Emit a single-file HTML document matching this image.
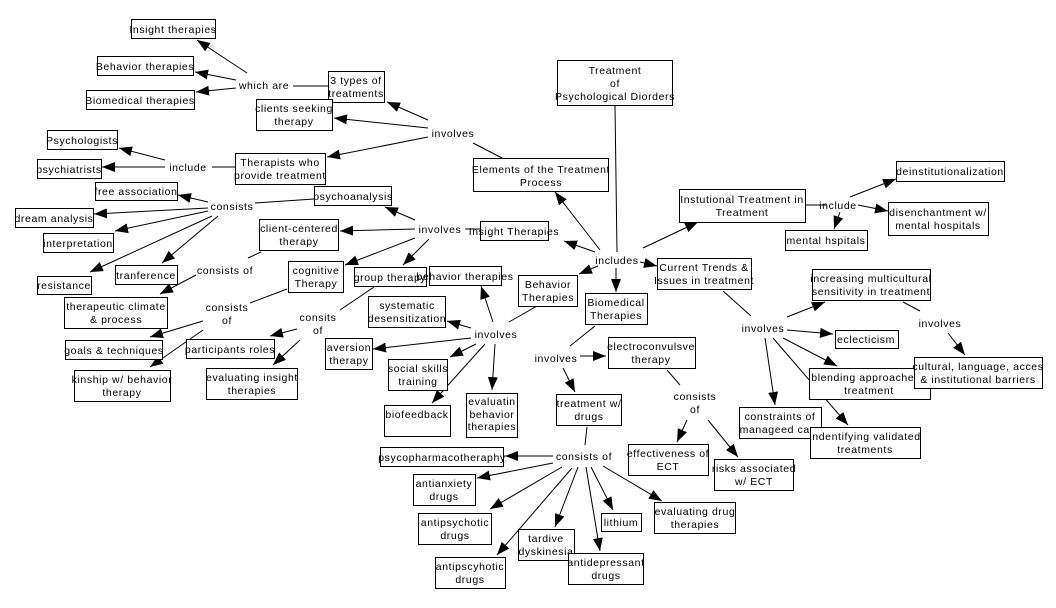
<!DOCTYPE html>
<html><head><meta charset="utf-8"><style>
html,body{margin:0;padding:0;background:#fff;}
svg{display:block;}
text{font-family:"Liberation Sans",sans-serif;font-size:10.5px;letter-spacing:0.6px;fill:#000;}
rect{fill:#fff;stroke:#000;stroke-width:1;}
line{stroke:#000;stroke-width:1;}
</style></head><body>
<svg width="1056" height="608" viewBox="0 0 1056 608" xmlns="http://www.w3.org/2000/svg">
<defs><marker id="a" markerWidth="13" markerHeight="10" refX="13" refY="5" orient="auto" markerUnits="userSpaceOnUse"><path d="M0,0L13,5L0,10z" fill="#000"/></marker></defs>
<g>
<line x1="247" y1="73" x2="197" y2="40" marker-end="url(#a)"/>
<line x1="236" y1="80" x2="195" y2="72" marker-end="url(#a)"/>
<line x1="236" y1="88" x2="196" y2="92" marker-end="url(#a)"/>
<line x1="293" y1="86" x2="328" y2="86"/>
<line x1="428" y1="120" x2="387" y2="102" marker-end="url(#a)"/>
<line x1="428" y1="128" x2="334" y2="118" marker-end="url(#a)"/>
<line x1="428" y1="137" x2="327" y2="157" marker-end="url(#a)"/>
<line x1="473" y1="143" x2="502" y2="158"/>
<line x1="165" y1="160" x2="119" y2="148" marker-end="url(#a)"/>
<line x1="165" y1="167" x2="102" y2="167" marker-end="url(#a)"/>
<line x1="212" y1="167" x2="235" y2="167"/>
<line x1="208" y1="202" x2="178" y2="195" marker-end="url(#a)"/>
<line x1="208" y1="208" x2="94" y2="214" marker-end="url(#a)"/>
<line x1="208" y1="211" x2="115" y2="231" marker-end="url(#a)"/>
<line x1="212" y1="216" x2="90" y2="272" marker-end="url(#a)"/>
<line x1="218" y1="216" x2="162" y2="263" marker-end="url(#a)"/>
<line x1="255" y1="203" x2="314" y2="199"/>
<line x1="415" y1="220" x2="385" y2="207" marker-end="url(#a)"/>
<line x1="415" y1="229" x2="340" y2="231" marker-end="url(#a)"/>
<line x1="415" y1="238" x2="345" y2="265" marker-end="url(#a)"/>
<line x1="429" y1="239" x2="403" y2="265" marker-end="url(#a)"/>
<line x1="465" y1="229" x2="480" y2="229"/>
<line x1="595" y1="252" x2="564" y2="241" marker-end="url(#a)"/>
<line x1="600" y1="250" x2="555" y2="192" marker-end="url(#a)"/>
<line x1="615" y1="106" x2="617" y2="252"/>
<line x1="643" y1="248" x2="698" y2="222" marker-end="url(#a)"/>
<line x1="640" y1="262" x2="657" y2="266" marker-end="url(#a)"/>
<line x1="598" y1="266" x2="579" y2="274" marker-end="url(#a)"/>
<line x1="616" y1="268" x2="616" y2="292" marker-end="url(#a)"/>
<line x1="805" y1="205" x2="826" y2="205"/>
<line x1="850" y1="197" x2="896" y2="179" marker-end="url(#a)"/>
<line x1="858" y1="205" x2="888" y2="211" marker-end="url(#a)"/>
<line x1="840" y1="212" x2="834" y2="229" marker-end="url(#a)"/>
<line x1="261" y1="252" x2="248" y2="258"/>
<line x1="196" y1="275" x2="160" y2="294" marker-end="url(#a)"/>
<line x1="287" y1="289" x2="250" y2="303"/>
<line x1="203" y1="321" x2="150" y2="337" marker-end="url(#a)"/>
<line x1="203" y1="330" x2="150" y2="367" marker-end="url(#a)"/>
<line x1="374" y1="287" x2="340" y2="310"/>
<line x1="297" y1="329" x2="270" y2="336" marker-end="url(#a)"/>
<line x1="300" y1="340" x2="273" y2="365" marker-end="url(#a)"/>
<line x1="493" y1="322" x2="481" y2="286" marker-end="url(#a)"/>
<line x1="537" y1="306" x2="509" y2="322"/>
<line x1="471" y1="328" x2="447" y2="321" marker-end="url(#a)"/>
<line x1="471" y1="338" x2="373" y2="349" marker-end="url(#a)"/>
<line x1="476" y1="344" x2="450" y2="357" marker-end="url(#a)"/>
<line x1="485" y1="344" x2="432" y2="403" marker-end="url(#a)"/>
<line x1="495" y1="344" x2="492" y2="390" marker-end="url(#a)"/>
<line x1="595" y1="326" x2="570" y2="346"/>
<line x1="580" y1="356" x2="606" y2="356" marker-end="url(#a)"/>
<line x1="563" y1="368" x2="575" y2="392" marker-end="url(#a)"/>
<line x1="587" y1="427" x2="585" y2="445"/>
<line x1="553" y1="456" x2="505" y2="456" marker-end="url(#a)"/>
<line x1="553" y1="463" x2="477" y2="478" marker-end="url(#a)"/>
<line x1="562" y1="467" x2="490" y2="509" marker-end="url(#a)"/>
<line x1="572" y1="468" x2="497" y2="555" marker-end="url(#a)"/>
<line x1="578" y1="467" x2="555" y2="527" marker-end="url(#a)"/>
<line x1="586" y1="467" x2="600" y2="551" marker-end="url(#a)"/>
<line x1="591" y1="467" x2="613" y2="510" marker-end="url(#a)"/>
<line x1="603" y1="466" x2="662" y2="501" marker-end="url(#a)"/>
<line x1="667" y1="370" x2="680" y2="385"/>
<line x1="687" y1="420" x2="677" y2="442" marker-end="url(#a)"/>
<line x1="708" y1="420" x2="738" y2="457" marker-end="url(#a)"/>
<line x1="723" y1="291" x2="751" y2="316"/>
<line x1="787" y1="317" x2="825" y2="302" marker-end="url(#a)"/>
<line x1="787" y1="330" x2="833" y2="334" marker-end="url(#a)"/>
<line x1="783" y1="338" x2="837" y2="366" marker-end="url(#a)"/>
<line x1="765" y1="338" x2="775" y2="405" marker-end="url(#a)"/>
<line x1="773" y1="338" x2="848" y2="425" marker-end="url(#a)"/>
<line x1="903" y1="302" x2="920" y2="311"/>
<line x1="948" y1="333" x2="965" y2="355" marker-end="url(#a)"/>
</g>
<g>
<rect x="131.5" y="19.5" width="84" height="19"/><text x="173" y="33" text-anchor="middle">Insight therapies</text>
<rect x="97.5" y="56.5" width="96" height="19"/><text x="145" y="70" text-anchor="middle">Behavior therapies</text>
<rect x="86.5" y="90.5" width="108" height="19"/><text x="140" y="104" text-anchor="middle">Biomedical therapies</text>
<rect x="328.5" y="71.5" width="56" height="31"/><text x="356" y="84" text-anchor="middle">3 types of</text><text x="356" y="97" text-anchor="middle">treatments</text>
<rect x="256.5" y="99.5" width="76" height="31"/><text x="294" y="112" text-anchor="middle">clients seeking</text><text x="294" y="125" text-anchor="middle">therapy</text>
<rect x="557.5" y="60.5" width="115" height="45"/><text x="615" y="74" text-anchor="middle">Treatment</text><text x="615" y="87" text-anchor="middle">of</text><text x="615" y="100" text-anchor="middle">Psychological Diorders</text>
<rect x="47.5" y="130.5" width="70" height="19"/><text x="82" y="144" text-anchor="middle">Psychologists</text>
<rect x="37.5" y="159.5" width="64" height="19"/><text x="69" y="173" text-anchor="middle">psychiatrists</text>
<rect x="235.5" y="153.5" width="90" height="31"/><text x="280" y="166" text-anchor="middle">Therapists who</text><text x="280" y="179" text-anchor="middle">provide treatment</text>
<rect x="473.5" y="158.5" width="135" height="33"/><text x="541" y="173" text-anchor="middle">Elements of the Treatment</text><text x="541" y="186" text-anchor="middle">Process</text>
<rect x="95.5" y="182.5" width="82" height="18"/><text x="136" y="195" text-anchor="middle">free association</text>
<rect x="15.5" y="208.5" width="78" height="19"/><text x="54" y="222" text-anchor="middle">dream analysis</text>
<rect x="43.5" y="233.5" width="70" height="19"/><text x="78" y="247" text-anchor="middle">interpretation</text>
<rect x="37.5" y="276.5" width="54" height="18"/><text x="64" y="289" text-anchor="middle">resistance</text>
<rect x="115.5" y="265.5" width="62" height="19"/><text x="146" y="279" text-anchor="middle">tranference</text>
<rect x="314.5" y="186.5" width="77" height="19"/><text x="353" y="200" text-anchor="middle">psychoanalysis</text>
<rect x="259.5" y="219.5" width="79" height="31"/><text x="299" y="232" text-anchor="middle">client-centered</text><text x="299" y="245" text-anchor="middle">therapy</text>
<rect x="480.5" y="221.5" width="68" height="19"/><text x="514" y="235" text-anchor="middle">Insight Therapies</text>
<rect x="288.5" y="261.5" width="55" height="31"/><text x="316" y="274" text-anchor="middle">cognitive</text><text x="316" y="287" text-anchor="middle">Therapy</text>
<rect x="354.5" y="267.5" width="72" height="19"/><text x="390" y="281" text-anchor="middle">group therapy</text>
<rect x="429.5" y="266.5" width="72" height="19"/><text x="465" y="280" text-anchor="middle">behavior therapies</text>
<rect x="518.5" y="275.5" width="59" height="31"/><text x="548" y="288" text-anchor="middle">Behavior</text><text x="548" y="301" text-anchor="middle">Therapies</text>
<rect x="679.5" y="189.5" width="126" height="33"/><text x="742" y="203" text-anchor="middle">Instutional Treatment in</text><text x="742" y="216" text-anchor="middle">Treatment</text>
<rect x="896.5" y="161.5" width="108" height="20"/><text x="950" y="175" text-anchor="middle">deinstitutionalization</text>
<rect x="888.5" y="202.5" width="100" height="33"/><text x="938" y="216" text-anchor="middle">disenchantment w/</text><text x="938" y="229" text-anchor="middle">mental hospitals</text>
<rect x="785.5" y="230.5" width="82" height="20"/><text x="826" y="244" text-anchor="middle">mental hspitals</text>
<rect x="64.5" y="297.5" width="103" height="31"/><text x="116" y="310" text-anchor="middle">therapeutic climate</text><text x="116" y="323" text-anchor="middle">&amp; process</text>
<rect x="65.5" y="340.5" width="97" height="19"/><text x="114" y="354" text-anchor="middle">goals &amp; techniques</text>
<rect x="74.5" y="370.5" width="96" height="31"/><text x="122" y="383" text-anchor="middle">kinship w/ behavior</text><text x="122" y="396" text-anchor="middle">therapy</text>
<rect x="186.5" y="339.5" width="88" height="19"/><text x="230" y="353" text-anchor="middle">participants roles</text>
<rect x="206.5" y="368.5" width="91" height="31"/><text x="252" y="381" text-anchor="middle">evaluating insight</text><text x="252" y="394" text-anchor="middle">therapies</text>
<rect x="368.5" y="296.5" width="77" height="31"/><text x="407" y="309" text-anchor="middle">systematic</text><text x="407" y="322" text-anchor="middle">desensitization</text>
<rect x="325.5" y="338.5" width="47" height="31"/><text x="349" y="351" text-anchor="middle">aversion</text><text x="349" y="364" text-anchor="middle">therapy</text>
<rect x="388.5" y="359.5" width="59" height="31"/><text x="418" y="372" text-anchor="middle">social skills</text><text x="418" y="385" text-anchor="middle">training</text>
<rect x="384.5" y="405.5" width="66" height="31"/><text x="417" y="418" text-anchor="middle">biofeedback</text>
<rect x="466.5" y="393.5" width="51" height="44"/><text x="492" y="405" text-anchor="middle">evaluatin</text><text x="492" y="418" text-anchor="middle">behavior</text><text x="492" y="430" text-anchor="middle">therapies</text>
<rect x="380.5" y="447.5" width="123" height="19"/><text x="442" y="461" text-anchor="middle">psycopharmacotheraphy</text>
<rect x="413.5" y="474.5" width="62" height="31"/><text x="444" y="487" text-anchor="middle">antianxiety</text><text x="444" y="500" text-anchor="middle">drugs</text>
<rect x="418.5" y="513.5" width="73" height="31"/><text x="455" y="526" text-anchor="middle">antipsychotic</text><text x="455" y="539" text-anchor="middle">drugs</text>
<rect x="435.5" y="557.5" width="70" height="31"/><text x="470" y="570" text-anchor="middle">antipscyhotic</text><text x="470" y="583" text-anchor="middle">drugs</text>
<rect x="518.5" y="529.5" width="56" height="31"/><text x="546" y="542" text-anchor="middle">tardive</text><text x="546" y="555" text-anchor="middle">dyskinesia</text>
<rect x="568.5" y="553.5" width="75" height="31"/><text x="606" y="566" text-anchor="middle">antidepressant</text><text x="606" y="579" text-anchor="middle">drugs</text>
<rect x="601.5" y="513.5" width="40" height="18"/><text x="621" y="526" text-anchor="middle">lithium</text>
<rect x="654.5" y="502.5" width="81" height="31"/><text x="695" y="515" text-anchor="middle">evaluating drug</text><text x="695" y="528" text-anchor="middle">therapies</text>
<rect x="585.5" y="293.5" width="62" height="31"/><text x="616" y="306" text-anchor="middle">Biomedical</text><text x="616" y="319" text-anchor="middle">Therapies</text>
<rect x="608.5" y="337.5" width="87" height="31"/><text x="651" y="350" text-anchor="middle">electroconvulsve</text><text x="651" y="363" text-anchor="middle">therapy</text>
<rect x="556.5" y="394.5" width="65" height="31"/><text x="589" y="407" text-anchor="middle">treatment w/</text><text x="589" y="420" text-anchor="middle">drugs</text>
<rect x="628.5" y="444.5" width="80" height="31"/><text x="668" y="457" text-anchor="middle">effectiveness of</text><text x="668" y="470" text-anchor="middle">ECT</text>
<rect x="714.5" y="459.5" width="79" height="31"/><text x="754" y="472" text-anchor="middle">risks associated</text><text x="754" y="485" text-anchor="middle">w/ ECT</text>
<rect x="657.5" y="258.5" width="94" height="31"/><text x="704" y="271" text-anchor="middle">Current Trends &amp;</text><text x="704" y="284" text-anchor="middle">Issues in treatment</text>
<rect x="812.5" y="269.5" width="118" height="31"/><text x="871" y="282" text-anchor="middle">increasing multicultural</text><text x="871" y="295" text-anchor="middle">sensitivity in treatment</text>
<rect x="835.5" y="330.5" width="63" height="18"/><text x="866" y="343" text-anchor="middle">eclecticism</text>
<rect x="809.5" y="368.5" width="121" height="31"/><text x="866" y="381" text-anchor="middle">blending approached</text><text x="869" y="394" text-anchor="middle">treatment</text>
<rect x="914.5" y="357.5" width="128" height="31"/><text x="978" y="370" text-anchor="middle">cultural, language, acces</text><text x="978" y="383" text-anchor="middle">&amp; institutional barriers</text>
<rect x="739.5" y="407.5" width="82" height="31"/><text x="780" y="420" text-anchor="middle">constraints of</text><text x="780" y="433" text-anchor="middle">manageed care</text>
<rect x="810.5" y="427.5" width="110" height="31"/><text x="865" y="440" text-anchor="middle">indentifying validated</text><text x="865" y="453" text-anchor="middle">treatments</text>
</g>
<g text-anchor="middle">
<text x="264" y="89">which are</text>
<text x="453" y="137">involves</text>
<text x="188" y="171">include</text>
<text x="232" y="210">consists</text>
<text x="440" y="233">involves</text>
<text x="225" y="274">consists of</text>
<text x="227" y="311">consists</text><text x="227" y="324">of</text>
<text x="318" y="321">consits</text><text x="318" y="334">of</text>
<text x="496" y="338">involves</text>
<text x="617" y="264">includes</text>
<text x="556" y="362">involves</text>
<text x="584" y="460">consists of</text>
<text x="695" y="400">consists</text><text x="695" y="413">of</text>
<text x="763" y="332">involves</text>
<text x="940" y="327">involves</text>
<text x="838" y="209">include</text>
</g>
</svg>
</body></html>
